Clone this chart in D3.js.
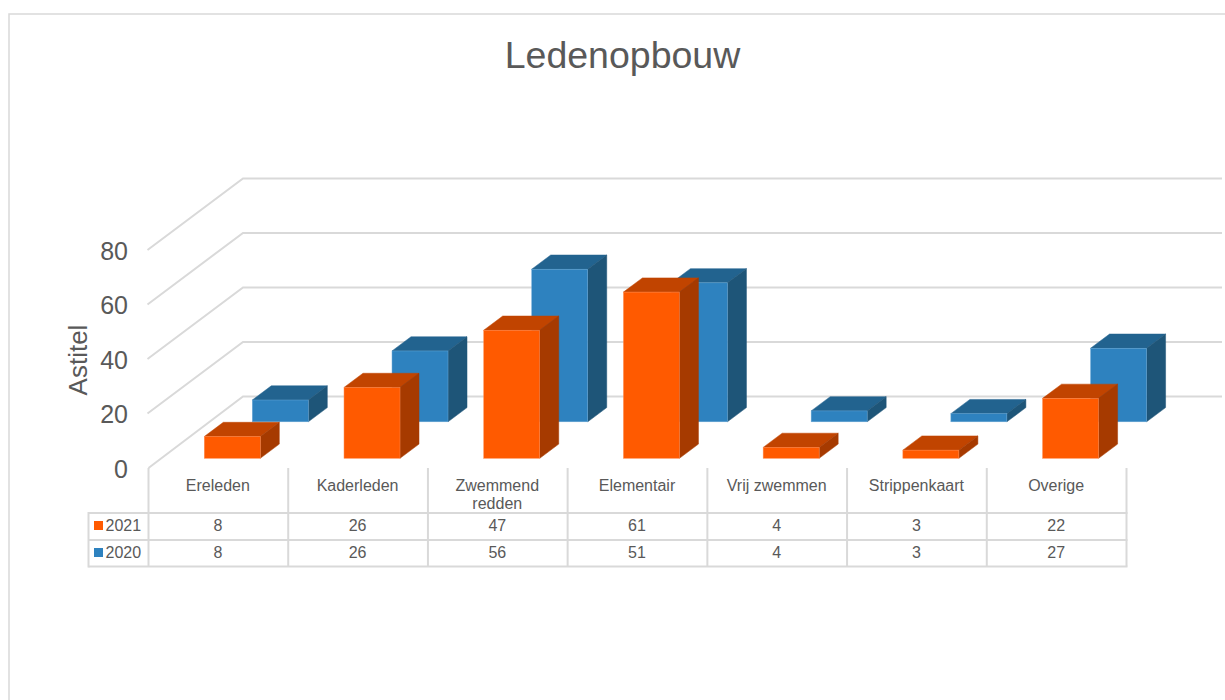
<!DOCTYPE html>
<html><head><meta charset="utf-8">
<script src="https://cdn.jsdelivr.net/npm/d3@7/dist/d3.min.js"></script>
<style>
html,body{margin:0;padding:0;background:#fff;overflow:hidden}
text{font-family:"Liberation Sans",Arial,sans-serif;fill:#595959}
</style></head><body>
<svg id="c" width="1225" height="700"></svg>
<script>
const titleText = "Ledenopbouw";
const axisTitle = "Astitel";
const categories = ["Ereleden","Kaderleden","Zwemmend redden","Elementair","Vrij zwemmen","Strippenkaart","Overige"];
const categoryLines = [["Ereleden"],["Kaderleden"],["Zwemmend","redden"],["Elementair"],["Vrij zwemmen"],["Strippenkaart"],["Overige"]];
const values2021 = [8,26,47,61,4,3,22];
const values2020 = [8,26,56,51,4,3,27];
const yTicks = [0,20,40,60,80];
const seriesNames = ["2021","2020"];

const LINE="#d9d9d9";
const svg=d3.select("#c");
// chart frame
svg.append("path").attr("d","M9,700V14H1225").attr("fill","none").attr("stroke",LINE).attr("stroke-width",1.5);
svg.append("text").attr("x",622.5).attr("y",68).attr("text-anchor","middle").attr("font-size",37.5).text(titleText);

const x=d3.scaleBand().domain(categories).range([148.5,1126.5]);
const y=d3.scaleLinear().domain([0,80]).range([468,250]);
const wall={dx:94.5,dy:-71.6,right:1222};
const depth={dx:19,dy:-14.2};
const barW=56;

// walls
const gridG=svg.append("g").attr("fill","none").attr("stroke",LINE).attr("stroke-width",2);
gridG.selectAll("path").data(yTicks).join("path")
  .attr("d",v=>`M${x.range()[0]-(v?1:0)},${y(v)}L${x.range()[0]+wall.dx},${y(v)+wall.dy}H${wall.right}`);

// y axis labels
const ax=svg.append("g").attr("transform","translate(136,1)")
  .call(d3.axisLeft(y).tickValues(yTicks).tickSize(0).tickPadding(8));
ax.select(".domain").remove();
ax.selectAll("text").attr("font-size",25).attr("font-family",'"Liberation Sans",Arial,sans-serif').style("fill","#595959");
svg.append("text").attr("transform","translate(87,360) rotate(-90)").attr("text-anchor","middle").attr("font-size",26).text(axisTitle);

// 3D bars
function bars(vals,left,base,c){
  const g=svg.append("g");
  vals.forEach((v,i)=>{
    const x0=x(categories[i])+left,x1=x0+barW,yb=base,h=y(0)-y(v),yt=yb-h;
    const d=depth;
    g.append("path").attr("d",`M${x0},${yt}L${x0+d.dx},${yt+d.dy}H${x1+d.dx}L${x1},${yt}Z`).attr("fill",c.top).attr("stroke",c.top).attr("stroke-width",.5);
    g.append("path").attr("d",`M${x1},${yt}L${x1+d.dx},${yt+d.dy}V${yb+d.dy}L${x1},${yb}Z`).attr("fill",c.side).attr("stroke",c.side).attr("stroke-width",.5);
    g.append("rect").attr("x",x0).attr("y",yt).attr("width",barW).attr("height",h).attr("fill",c.front).attr("stroke",c.edge).attr("stroke-width",.5);
  });
}
const col2020={front:"#2e82bf",top:"#22638f",side:"#1e5578",edge:"#6aa8d6"};
const col2021={front:"#ff5a00",top:"#c14400",side:"#a63a00",edge:"#ff8c50"};
bars(values2020,103.8,421.8,col2020);
bars(values2021,55.8,458.3,col2021);

// data table
const T={left:88.5,head:468,r1:513,r2:540,r3:566.5};
const tg=svg.append("g").attr("stroke",LINE).attr("stroke-width",2).attr("fill","none");
const edges=[...categories.map(c=>x(c)),x.range()[1]];
edges.forEach(e=>tg.append("line").attr("x1",e).attr("x2",e).attr("y1",T.head).attr("y2",T.r3));
[T.r1,T.r2,T.r3].forEach(r=>tg.append("line").attr("x1",T.left).attr("x2",x.range()[1]+1).attr("y1",r).attr("y2",r));
tg.append("line").attr("x1",T.left).attr("x2",T.left).attr("y1",T.r1-1).attr("y2",T.r3+1);

categoryLines.forEach((ls,i)=>{
  const cx=x(categories[i])+x.bandwidth()/2-0.5;
  const t=svg.append("text").attr("text-anchor","middle").attr("font-size",16).attr("x",cx).attr("y",491);
  ls.forEach((l,k)=>t.append("tspan").attr("x",cx).attr("dy",k?18:0).text(l));
});
[[values2021,T.r1,col2021.front],[values2020,T.r2,col2020.front]].forEach(([vals,r,color],si)=>{
  svg.append("rect").attr("x",94).attr("y",r+8).attr("width",9).attr("height",9).attr("fill",color);
  svg.append("text").attr("x",105.5).attr("y",r+18).attr("font-size",16).text(seriesNames[si]);
  vals.forEach((v,i)=>svg.append("text").attr("text-anchor","middle").attr("font-size",16)
    .attr("x",x(categories[i])+x.bandwidth()/2-0.5).attr("y",r+18).text(v));
});
</script>
</body></html>
